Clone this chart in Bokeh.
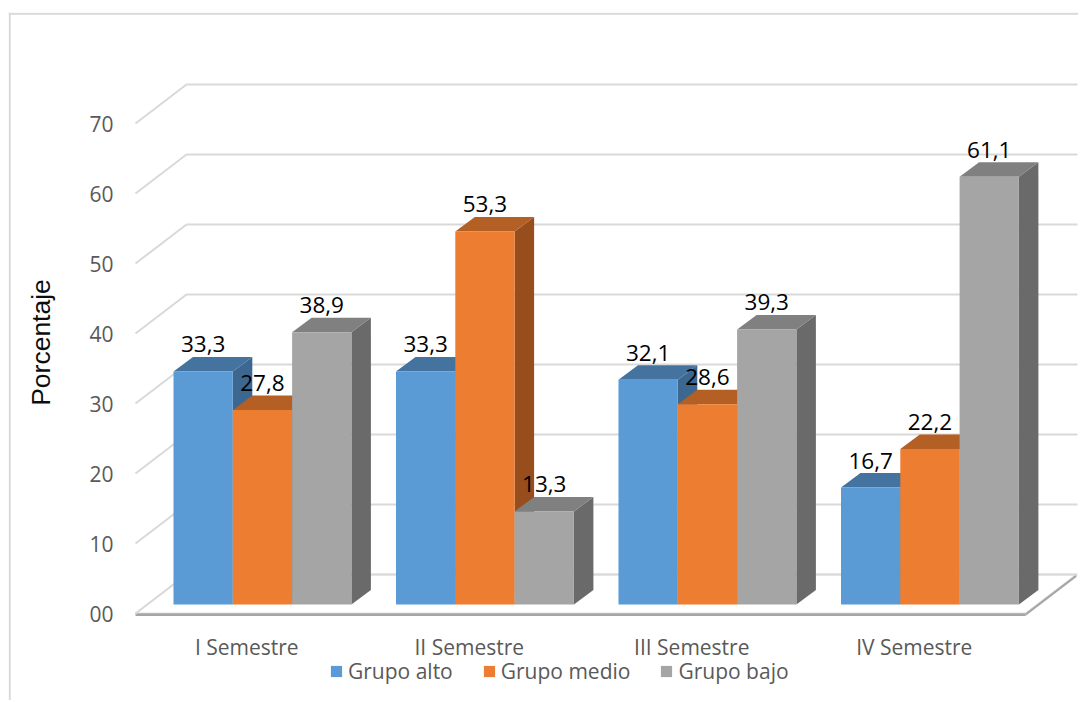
import numpy as np
from bokeh.plotting import figure
from bokeh.models import Range1d, Legend, LegendItem, Span
from bokeh.core.properties import value
from bokeh.embed import file_html
from bokeh.resources import INLINE

# ---------------- data ----------------
categories = ["I Semestre", "II Semestre", "III Semestre", "IV Semestre"]
series_names = ["Grupo alto", "Grupo medio", "Grupo bajo"]
grupo_alto = [33.3, 33.3, 32.1, 16.7]
grupo_medio = [27.8, 53.3, 28.6, 22.2]
grupo_bajo = [38.9, 13.3, 39.3, 61.1]
y_ticks = [0, 10, 20, 30, 40, 50, 60, 70]
y_tick_labels = ["00", "10", "20", "30", "40", "50", "60", "70"]
axis_title = "Porcentaje"

series_values = [grupo_alto, grupo_medio, grupo_bajo]

# ---------------- style ----------------
front_colors = ["#5B9BD5", "#ED7D31", "#A5A5A5"]
top_colors = ["#44739F", "#B45F24", "#808080"]
side_colors = ["#3C6791", "#984D1C", "#6A6A6A"]
grid_color = "#D9D9D9"
label_grey = "#595959"
FONT = "Open Sans"

# geometry: pixels per data unit
PX_X = 222.5   # px per category
PX_Y = 7.0     # px per percentage point

FRAME_W, FRAME_H = 1070, 688
X_START = -127 / PX_X
X_END = X_START + FRAME_W / PX_X
Y_END = 601 / PX_Y
Y_START = Y_END - FRAME_H / PX_Y

GROUP_OFF = 38 / PX_X      # start of the cluster inside a category
BAR_W = 59.3 / PX_X        # width of one bar
BASE = 9 / PX_Y            # bars stand a bit behind the front edge
BDX, BDY = 19.5 / PX_X, 14.5 / PX_Y   # bar depth
DX, DY = 51 / PX_X, 39 / PX_Y         # wall / floor depth
XR = 942 / PX_X                        # right end of back wall
FT = 2.5 / PX_Y                        # floor thickness
n_cat = len(categories)

p = figure(frame_width=FRAME_W, frame_height=FRAME_H,
           x_range=Range1d(X_START, X_END), y_range=Range1d(Y_START, Y_END),
           output_backend="svg", toolbar_location=None, title=None,
           x_axis_location=None, y_axis_location=None,
           min_border_left=8, min_border_right=0, min_border_top=12, min_border_bottom=0,
           outline_line_color=None, background_fill_color="white",
           border_fill_color="white")
p.xgrid.visible = False
p.ygrid.visible = False

# outer chart border (left and top)
p.add_layout(Span(location=X_START + 1.2 / PX_X, dimension="height",
                  line_color=grid_color, line_width=2))
p.add_layout(Span(location=Y_END - 1.2 / PX_Y, dimension="width",
                  line_color=grid_color, line_width=2))

# floor
p.patch([0, n_cat, n_cat + DX, DX], [0, 0, DY, DY],
        fill_color="white", line_color="#C8C8C8", line_width=1.3)
p.quad(left=[0], right=[n_cat], bottom=[-FT], top=[0],
       fill_color="#A6A6A6", line_color=None)
p.patch([n_cat, n_cat + DX, n_cat + DX, n_cat],
        [-FT, DY - FT, DY, 0], fill_color="#A6A6A6", line_color=None)

# gridlines (side wall + back wall)
gx = [[0, DX, XR] for _ in y_ticks]
gy = [[t, t + DY, t + DY] for t in y_ticks]
p.multi_line(gx, gy, line_color=grid_color, line_width=2)

# bars
legend_items = []
for s, vals in enumerate(series_values):
    left = [i + GROUP_OFF + s * BAR_W for i in range(n_cat)]
    right = [l + BAR_W for l in left]
    bottom = [BASE] * n_cat
    top = [BASE + v for v in vals]
    side_xs = [[r, r + BDX, r + BDX, r] for r in right]
    side_ys = [[b, b + BDY, t + BDY, t] for b, t in zip(bottom, top)]
    top_xs = [[l, r, r + BDX, l + BDX] for l, r in zip(left, right)]
    top_ys = [[t, t, t + BDY, t + BDY] for t in top]
    p.patches(side_xs, side_ys, fill_color=side_colors[s], line_color=None)
    p.patches(top_xs, top_ys, fill_color=top_colors[s], line_color=None)
    r_front = p.quad(left=left, right=right, bottom=bottom, top=top,
                     fill_color=front_colors[s], line_color=None)
    legend_items.append(LegendItem(label=series_names[s], renderers=[r_front]))
    # data labels
    p.text(x=[(l + r) / 2 for l, r in zip(left, right)],
           y=[t + BDY + 12.5 / PX_Y for t in top],
           text=[f"{v:.1f}".replace(".", ",") for v in vals],
           text_font=value(FONT), text_font_size="22.5px", text_color="#000000",
           text_align="center", text_baseline="middle")

# value axis tick labels
p.text(x=[-22 / PX_X] * len(y_ticks), y=y_ticks, text=y_tick_labels,
       text_font=value(FONT), text_font_size="21px", text_color=label_grey,
       text_align="right", text_baseline="middle")

# category labels
p.text(x=[i + 0.5 for i in range(n_cat)], y=[-33 / PX_Y] * n_cat, text=categories,
       text_font=value(FONT), text_font_size="21px", text_color=label_grey,
       text_align="center", text_baseline="middle")

# axis title
p.text(x=[-95 / PX_X], y=[271 / PX_Y], text=[axis_title], angle=np.pi / 2,
       text_font=value("Liberation Sans"), text_font_size="26.5px", text_color="#0D0D0D",
       text_align="center", text_baseline="middle")

legend = Legend(items=legend_items, orientation="horizontal", location=(321, 15),
                glyph_width=14, glyph_height=14, label_standoff=5, spacing=29,
                padding=0, margin=0, border_line_color=None, background_fill_alpha=0,
                label_text_font=FONT, label_text_font_size="21px",
                label_text_color=label_grey, label_height=24)
p.add_layout(legend)

open("out.html", "w").write(file_html(p, INLINE))
